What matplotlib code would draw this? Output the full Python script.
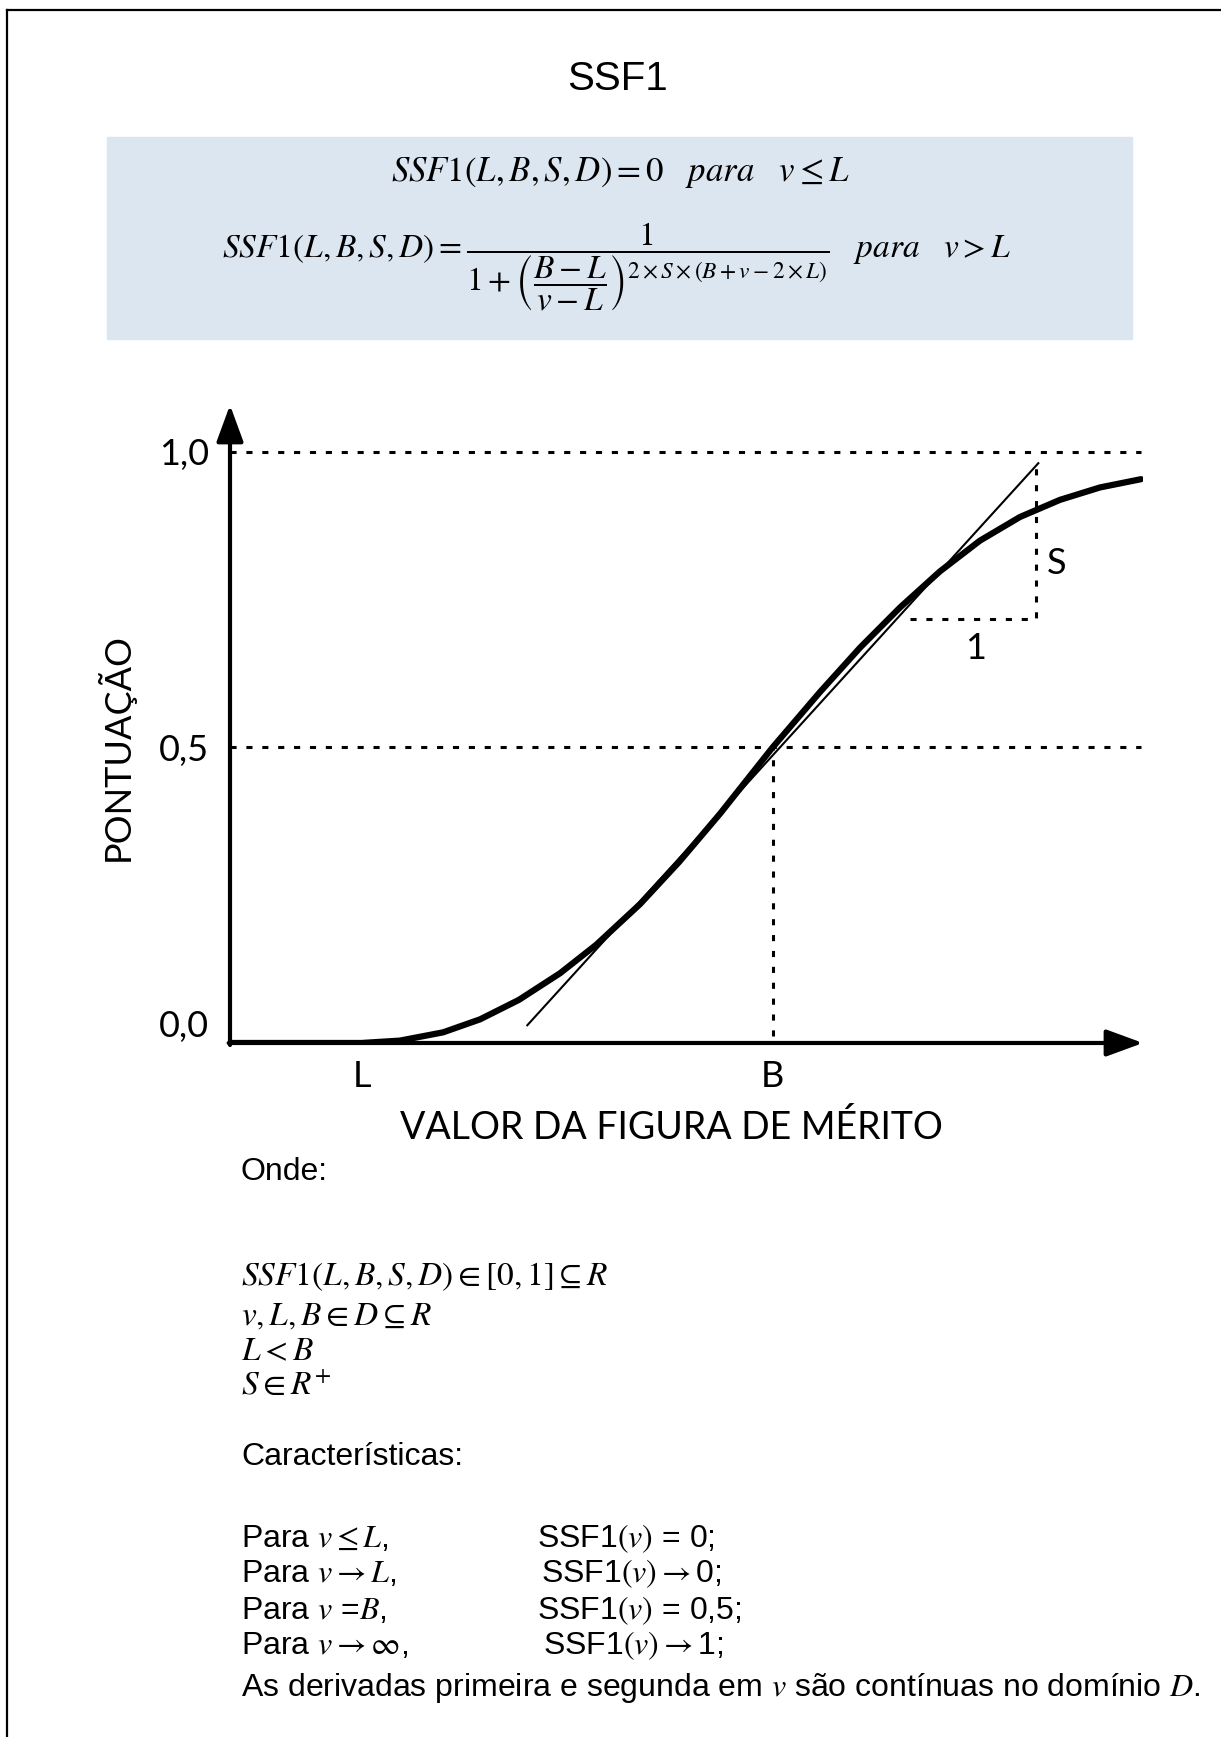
import matplotlib
matplotlib.use("Agg")
import matplotlib.pyplot as plt
from matplotlib.patches import Rectangle
from matplotlib.lines import Line2D

plt.rcParams["mathtext.fontset"] = "stix"

W, H = 1221, 1737

# curve (x in arbitrary merit units, y = score)
curve_x = [0.0, 0.96, 1.24, 1.555, 1.825, 2.109, 2.409, 2.672, 2.993, 3.277, 3.577,
           3.96, 4.307, 4.599, 4.891, 5.182, 5.474, 5.766, 6.058, 6.350, 6.65]
curve_y = [0.0, 0.0, 0.004, 0.018, 0.040, 0.073, 0.118, 0.166, 0.235, 0.306, 0.388,
           0.5, 0.594, 0.669, 0.737, 0.798, 0.850, 0.890, 0.919, 0.940, 0.954]

L_pos, B_pos = 0.96, 3.96
x_ticks = [L_pos, B_pos]
x_tick_labels = ["L", "B"]
y_ticks = [0.0, 0.5, 1.0]
y_tick_labels = ["0,0", "0,5", "1,0"]

# tangent at B and the slope triangle
tangent_x = [2.17, 5.90]
tangent_y = [0.030, 0.981]
tri_x = [4.96, 5.88, 5.88]
tri_y = [0.717, 0.717, 0.975]

x_end = 6.65
x_max, y_min, y_max = 6.664, -0.0034, 1.0795


def fx(px):
    return px / W


def fy(py):
    return 1 - py / H


fig = plt.figure(figsize=(W / 100, H / 100), dpi=100)

# page frame (top and left edges)
fig.add_artist(Line2D([fx(7), 1], [fy(10), fy(10)], color="black", lw=1.6))
fig.add_artist(Line2D([fx(7), fx(7)], [fy(10), 0], color="black", lw=1.6))

fig.text(fx(618), fy(79), "SSF1", family="Liberation Sans", fontsize=29,
         ha="center", va="center")

# formula box
fig.add_artist(Rectangle((fx(107), fy(339)), fx(1132) - fx(107), fy(137) - fy(339),
                         transform=fig.transFigure, color="#dce6f1", zorder=0))
fig.text(fx(620), fy(181), r"$SSF1(L,B,S,D)=0\ \ \ para\ \ \ v\leq L$",
         fontsize=25, ha="center", va="baseline")
fig.text(fx(617), fy(258),
         r"$SSF1(L,B,S,D)=\dfrac{1}{1+\left(\dfrac{B-L}{v-L}\right)^{2\times S\times(B+v-2\times L)}}"
         r"\ \ \ para\ \ \ v>L$",
         fontsize=24, ha="center", va="baseline")

ax = fig.add_axes([fx(230), fy(1045), fx(1143) - fx(230), fy(405) - fy(1045)])
ax.set_xlim(0, x_max)
ax.set_ylim(y_min, y_max)
for s in ax.spines.values():
    s.set_visible(False)

dot = dict(color="black", lw=2.2, dashes=(2.0, 3.2))
ax.plot([0, x_end], [1.0, 1.0], **dot)
ax.plot([0, x_end], [0.5, 0.5], **dot)
ax.plot([B_pos, B_pos], [0.012, 0.5], **dot)
ax.plot(tri_x, tri_y, **dot)

ax.plot(tangent_x, tangent_y, color="black", lw=1.5)
ax.plot(curve_x, curve_y, color="black", lw=4.5, solid_capstyle="round",
        solid_joinstyle="round", zorder=3)

arrow = dict(arrowstyle="-|>,head_length=1.5,head_width=0.55", lw=3, color="black",
             shrinkA=0, shrinkB=0, mutation_scale=15)
ax.annotate("", xy=(0, y_max), xytext=(0, y_min), arrowprops=arrow, annotation_clip=False)
ax.annotate("", xy=(x_max, 0), xytext=(-0.01, 0), arrowprops=arrow, annotation_clip=False)

ax.set_xticks(x_ticks)
ax.set_xticklabels(x_tick_labels, family="Lato", fontsize=26)
ax.set_yticks(y_ticks)
ax.set_yticklabels(y_tick_labels, family="Lato", fontsize=26)
ax.tick_params(axis="x", length=0, pad=11)
ax.tick_params(axis="y", length=0, pad=15)
ax.get_yticklabels()[0].set_va("bottom")

ax.text(6.03, 0.812, "S", family="Lato", fontsize=26, ha="center", va="center")
ax.text(5.44, 0.668, "1", family="Lato", fontsize=26, ha="center", va="center")

fig.text(fx(115), fy(747), "PONTUAÇÃO", family="Lato", fontsize=26, rotation=90,
         ha="center", va="center")
fig.text(fx(671), fy(1128), "VALOR DA FIGURA DE MÉRITO", family="Lato", fontsize=27,
         ha="center", va="center")

# notes below the chart
tx = fx(241)
body = dict(family="Liberation Sans", fontsize=23, ha="left", va="center")
mathrow = dict(body, fontsize=24)
fig.text(tx, fy(1172), "Onde:", **body)
fig.text(tx, fy(1277), r"$SSF1(L,B,S,D)\in[0,1]\subseteq R$", **mathrow)
fig.text(tx, fy(1317), r"$v,L,B\in D\subseteq R$", **mathrow)
fig.text(tx, fy(1352), r"$L<B$", **mathrow)
fig.text(tx, fy(1386), r"$S\in R^{+}$", **mathrow)
fig.text(tx, fy(1457), "Características:", **body)

left_col = [r"Para $v\leq L$,", r"Para $v\rightarrow L$,", r"Para $v$ =$B$,",
            r"Para $v\rightarrow\infty$,"]
right_col = [r"SSF1$(v)$ = 0;", r"SSF1$(v)\rightarrow$0;", r"SSF1$(v)$ = 0,5;",
             r"SSF1$(v)\rightarrow$1;"]
right_x = [537, 541, 537, 543]
rows_y = [1539, 1574, 1611, 1646]
for a, b, xr, yr in zip(left_col, right_col, right_x, rows_y):
    fig.text(tx, fy(yr), a, **body)
    fig.text(fx(xr), fy(yr), b, **body)
fig.text(tx, fy(1688),
         r"As derivadas primeira e segunda em $v$ são contínuas no domínio $D$.", **body)

fig.savefig("out.png", dpi=100)
